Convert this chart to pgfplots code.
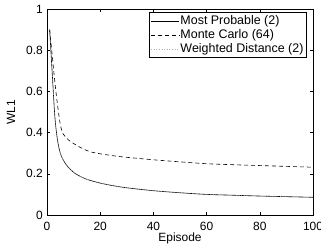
\documentclass[border=0pt]{standalone}
\usepackage{pgfplots}
\pgfplotsset{compat=1.18}
\usepackage{fontspec}
\setmainfont{Liberation Sans}
\begin{document}
\fontsize{12}{14}\selectfont
\begin{tikzpicture}[x=1bp,y=1bp]
\path[use as bounding box] (-47,-35) rectangle (274,215);
\begin{axis}[
  at={(0,0)}, anchor=south west,
  scale only axis, width=266bp, height=206bp,
  xmin=0, xmax=100, ymin=0, ymax=1,
  xtick={0,20,40,60,80,100}, ytick={0,0.2,0.4,0.6,0.8,1},
  tick align=inside, major tick length=3bp,
  axis line style={line width=0.9pt},
  every tick/.style={black, line width=0.5pt},
  /pgf/number format/assume math mode=true,
  ticklabel style={font=\fontsize{12}{14}\selectfont},
  xticklabel style={anchor=base, yshift=-15bp},
  xlabel={Episode}, ylabel={WL1},
  xlabel style={at={(axis description cs:0.5,0)}, anchor=base, yshift=-26bp},
  ylabel style={at={(axis description cs:-0.135,0.5)}, anchor=center},
  legend style={at={(0.975,0.985)}, anchor=north east, draw=black, line width=0.8pt,
    font=\fontsize{12.5}{13}\selectfont, inner sep=1.5pt, row sep=-1pt,
    cells={anchor=west}, nodes={inner xsep=1pt}},
  legend cell align=left,
  legend image code/.code={\draw[#1, line width=0.5pt] (0bp,0bp) -- (28bp,0bp);},
]
\addplot[black, line width=0.6pt, smooth] coordinates {
(1,0.90) (2,0.68) (3,0.47) (4,0.36) (5,0.30) (6,0.27) (7,0.248) (8,0.232) (10,0.207) (12,0.191) (15,0.173) (20,0.155) (25,0.142) (30,0.132) (40,0.118) (50,0.108) (60,0.100) (70,0.096) (80,0.092) (90,0.089) (100,0.086)};
\addlegendentry{Most Probable (2)}
\addplot[black, line width=0.6pt, dashed, dash pattern=on 4pt off 3pt, smooth] coordinates {
(1,0.90) (2,0.77) (3,0.64) (4,0.53) (5,0.44) (6,0.395) (8,0.365) (10,0.347) (13,0.325) (16,0.308) (20,0.297) (27,0.284) (30,0.280) (40,0.268) (50,0.258) (60,0.249) (70,0.244) (80,0.240) (90,0.236) (100,0.232)};
\addlegendentry{Monte Carlo (64)}
\addplot[gray!60, line width=0.6pt, dotted, smooth] coordinates {
(1,0.90) (2,0.68) (3,0.47) (4,0.36) (5,0.30) (6,0.27) (7,0.248) (8,0.232) (10,0.207) (12,0.191) (15,0.173) (20,0.155) (25,0.142) (30,0.132) (40,0.118) (50,0.108) (60,0.100) (70,0.096) (80,0.092) (90,0.089) (100,0.086)};
\addlegendentry{Weighted Distance (2)}
\end{axis}
\end{tikzpicture}
\end{document}
